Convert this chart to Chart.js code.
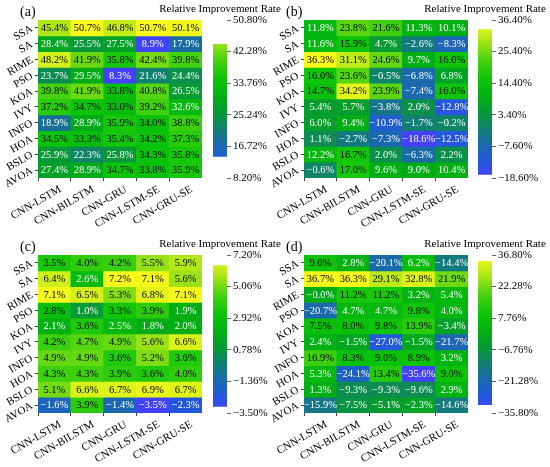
<!DOCTYPE html>
<html>
<head>
<meta charset="utf-8">
<script src="https://cdn.jsdelivr.net/npm/chart.js@4.4.1/dist/chart.umd.min.js"></script>
<style>
  body { margin: 0; background: #fff; overflow: hidden; }
  #page { position: relative; width: 550px; height: 467px; }
  canvas { position: absolute; }
</style>
</head>
<body>
<div id="page">
  <canvas id="heatA" width="202" height="230" style="left:0px;top:0px"></canvas>
  <canvas id="barA" width="130" height="195" style="left:155px;top:0px"></canvas>
  <canvas id="heatB" width="202" height="230" style="left:266px;top:0px"></canvas>
  <canvas id="barB" width="130" height="195" style="left:420px;top:0px"></canvas>
  <canvas id="heatC" width="202" height="230" style="left:0px;top:235px"></canvas>
  <canvas id="barC" width="130" height="195" style="left:155px;top:235px"></canvas>
  <canvas id="heatD" width="202" height="230" style="left:266px;top:235px"></canvas>
  <canvas id="barD" width="130" height="195" style="left:420px;top:235px"></canvas>
</div>
<script>
// rows (optimizers) and columns (models)
const rows = ['SSA', 'SA', 'RIME', 'PSO', 'KOA', 'IVY', 'INFO', 'HOA', 'BSLO', 'AVOA'];
const cols = ['CNN-LSTM', 'CNN-BILSTM', 'CNN-GRU', 'CNN-LSTM-SE', 'CNN-GRU-SE'];

// relative improvement rate (%), one row per optimizer
const valuesA = [
  [45.4, 50.7, 46.8, 50.7, 50.1],
  [28.4, 25.5, 27.5, 8.9, 17.9],
  [48.2, 41.9, 35.8, 42.4, 39.8],
  [23.7, 29.5, 8.3, 21.6, 24.4],
  [39.8, 41.9, 33.8, 40.8, 26.5],
  [37.2, 34.7, 33.0, 39.2, 32.6],
  [18.9, 28.9, 35.9, 34.0, 38.8],
  [34.5, 33.3, 35.4, 34.2, 37.3],
  [25.9, 22.3, 25.8, 34.3, 35.8],
  [27.4, 28.9, 34.7, 33.8, 35.9]
];
const valuesB = [
  [11.8, 23.8, 21.6, 11.3, 10.1],
  [11.6, 15.9, 4.7, -2.6, -8.3],
  [36.3, 31.1, 24.6, 9.7, 16.0],
  [16.0, 23.6, -0.5, -6.8, 6.8],
  [14.7, 34.2, 23.9, -7.4, 16.0],
  [5.4, 5.7, -3.8, 2.0, -12.8],
  [6.0, 9.4, -10.9, -1.7, -0.2],
  [1.1, -2.7, -7.3, -18.6, -12.5],
  [12.2, 16.7, 2.0, -6.3, 2.2],
  [-0.6, 17.0, 9.6, 9.0, 10.4]
];
const valuesC = [
  [3.5, 4.0, 4.2, 5.5, 5.9],
  [6.4, 2.6, 7.2, 7.1, 5.6],
  [7.1, 6.5, 5.3, 6.8, 7.1],
  [2.8, 1.0, 3.3, 3.9, 1.9],
  [2.1, 3.6, 2.5, 1.8, 2.0],
  [4.2, 4.7, 4.9, 5.6, 6.6],
  [4.9, 4.9, 3.6, 5.2, 3.6],
  [4.3, 4.3, 3.9, 3.6, 4.0],
  [5.1, 6.6, 6.7, 6.9, 6.7],
  [-1.6, 3.9, -1.4, -3.5, -2.3]
];
const valuesD = [
  [9.0, 2.8, -20.1, 6.2, -14.4],
  [36.7, 36.3, 29.1, 32.8, 21.9],
  [-0.0, 11.2, 11.2, 3.2, 5.4],
  [-20.7, 4.7, 4.7, 9.8, 4.0],
  [7.5, 8.0, 9.8, 13.9, -3.4],
  [2.4, -1.5, -27.0, -1.5, -21.7],
  [16.9, 8.3, 9.0, 8.9, 3.2],
  [5.3, -24.1, 13.4, -35.6, 9.0],
  [1.3, -9.3, -9.3, -9.6, 2.9],
  [-15.9, -7.5, -5.1, -2.3, -14.6]
];

// colour bar limits [min, max]
const rangeA = [8.2, 50.8];
const rangeB = [-18.6, 36.4];
const rangeC = [-3.5, 7.2];
const rangeD = [-35.8, 36.8];

const panelLabels = ['(a)', '(b)', '(c)', '(d)'];
const barTitle = 'Relative Improvement Rate';

// blue -> teal -> green -> yellow
const cmapStops = [
  [0.00, [68, 64, 255]],
  [0.12, [34, 90, 218]],
  [0.25, [22, 112, 150]],
  [0.40, [8, 150, 60]],
  [0.50, [0, 172, 22]],
  [0.62, [10, 196, 8]],
  [0.75, [72, 210, 16]],
  [0.88, [180, 232, 24]],
  [1.00, [250, 250, 26]]
];

const serif = "'Liberation Serif', 'Times New Roman', serif";
Chart.defaults.font.family = serif;
Chart.defaults.font.size = 11;
Chart.defaults.color = '#000';

function rgb(c) { return 'rgb(' + c.join(',') + ')'; }

function colorAt(t) {
  t = Math.max(0, Math.min(1, t));
  for (let i = 1; i < cmapStops.length; i++) {
    const [t1, c1] = cmapStops[i];
    const [t0, c0] = cmapStops[i - 1];
    if (t <= t1) {
      const f = (t - t0) / (t1 - t0);
      return rgb(c0.map((v, k) => Math.round(v + (c1[k] - v) * f)));
    }
  }
  return rgb(cmapStops[cmapStops.length - 1][1]);
}

function fmtPct(v, digits) {
  const neg = v < 0 || Object.is(v, -0);
  return (neg ? '\u2212' : '') + Math.abs(v).toFixed(digits) + '%';
}

function heatmap(id, label, values, range) {
  const [lo, hi] = range;
  const cellText = {
    id: 'cellText',
    afterDatasetsDraw(chart) {
      const ctx = chart.ctx;
      ctx.save();
      ctx.font = '10.5px ' + serif;
      ctx.textAlign = 'center';
      ctx.textBaseline = 'middle';
      chart.data.datasets.forEach((ds, i) => {
        chart.getDatasetMeta(i).data.forEach((bar, j) => {
          const v = values[i][j];
          ctx.fillStyle = (v - lo) / (hi - lo) < 0.58 ? '#fff' : '#000';
          ctx.fillText(fmtPct(v, 1), bar.x, (bar.y + bar.base) / 2 + 0.5);
        });
      });
      // panel letter, top left
      ctx.font = '14px ' + serif;
      ctx.fillStyle = '#000';
      ctx.textAlign = 'left';
      ctx.fillText(label, chart.chartArea.left - 18, chart.chartArea.top - 8);
      ctx.restore();
    }
  };
  return new Chart(id, {
    type: 'bar',
    data: {
      labels: cols,
      datasets: rows.map((r, i) => ({
        label: r,
        data: cols.map(() => 1),
        backgroundColor: values[i].map(v => colorAt((v - lo) / (hi - lo))),
        borderWidth: 0,
        barPercentage: 1,
        categoryPercentage: 1
      }))
    },
    options: {
      responsive: false,
      animation: false,
      layout: { padding: { left: 0, right: 0, top: 20, bottom: 0 } },
      plugins: {
        legend: { display: false },
        tooltip: { enabled: false }
      },
      scales: {
        x: {
          stacked: true,
          grid: { drawOnChartArea: false, tickLength: 3, color: '#444' },
          border: { display: false },
          ticks: { minRotation: 30, maxRotation: 30, autoSkip: false, padding: 2, labelOffset: 6 },
          afterFit: s => { s.height = 52; s.paddingLeft = 0; s.paddingRight = 0; }
        },
        y: {
          stacked: true,
          reverse: true,
          min: 0,
          max: rows.length,
          afterBuildTicks: s => { s.ticks = rows.map((r, i) => ({ value: i + 0.5 })); },
          grid: { drawOnChartArea: false, tickLength: 3, color: '#444' },
          border: { display: false },
          ticks: {
            minRotation: 30, maxRotation: 30, autoSkip: false, padding: 3,
            callback: v => rows[Math.floor(v)]
          },
          afterFit: s => { s.width = 38; s.paddingTop = 0; s.paddingBottom = 0; }
        }
      }
    },
    plugins: [cellText]
  });
}

function colorbar(id, range) {
  const [lo, hi] = range;
  const tickVals = [0, 1, 2, 3, 4, 5].map(k => lo + k * (hi - lo) / 5);
  return new Chart(id, {
    type: 'bar',
    data: {
      labels: [''],
      datasets: [{
        data: [[lo, hi]],
        backgroundColor: ctx => {
          const a = ctx.chart.chartArea;
          if (!a) return rgb(cmapStops[0][1]);
          const g = ctx.chart.ctx.createLinearGradient(0, a.bottom, 0, a.top);
          cmapStops.forEach(([t, c]) => g.addColorStop(t, rgb(c)));
          return g;
        },
        borderWidth: 0,
        barPercentage: 1,
        categoryPercentage: 1
      }]
    },
    options: {
      responsive: false,
      animation: false,
      layout: { padding: { left: 0, right: 0, top: 0, bottom: 17 } },
      plugins: {
        legend: { display: false },
        tooltip: { enabled: false },
        title: {
          display: true, text: barTitle,
          font: { size: 11, weight: 'normal', lineHeight: 1 },
          padding: { top: 4, bottom: 5 }
        }
      },
      scales: {
        x: { display: false },
        pad: {
          position: 'left',
          grid: { display: false },
          border: { display: false },
          ticks: { display: false },
          afterFit: s => { s.width = 58; }
        },
        y: {
          position: 'right',
          min: lo,
          max: hi,
          afterBuildTicks: s => { s.ticks = tickVals.map(v => ({ value: v })); },
          grid: { drawOnChartArea: false, tickLength: 4, color: '#666' },
          border: { display: false },
          ticks: { padding: 2, callback: v => fmtPct(v, 2) },
          afterFit: s => { s.width = 58; s.paddingTop = 0; s.paddingBottom = 0; }
        }
      }
    }
  });
}

heatmap('heatA', panelLabels[0], valuesA, rangeA);
heatmap('heatB', panelLabels[1], valuesB, rangeB);
heatmap('heatC', panelLabels[2], valuesC, rangeC);
heatmap('heatD', panelLabels[3], valuesD, rangeD);
colorbar('barA', rangeA);
colorbar('barB', rangeB);
colorbar('barC', rangeC);
colorbar('barD', rangeD);
</script>
</body>
</html>
